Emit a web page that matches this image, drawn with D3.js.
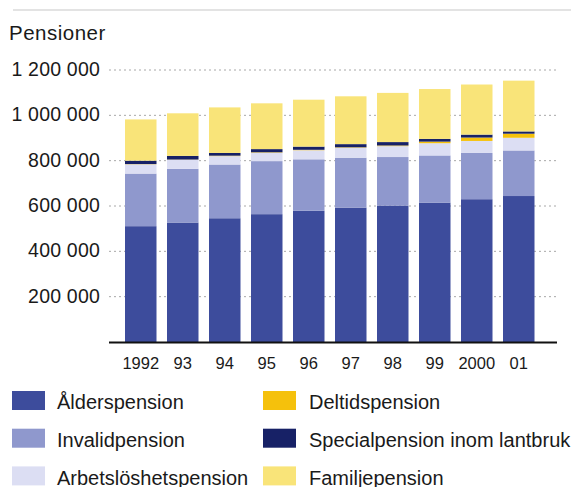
<!DOCTYPE html>
<html>
<head>
<meta charset="utf-8">
<script src="https://cdnjs.cloudflare.com/ajax/libs/d3/7.8.5/d3.min.js"></script>
<style>
	body { margin: 0; background: #fff; }
	text { font-family: "Liberation Sans", Arial, sans-serif; fill: #1a1a1a; }
	.gridLine { stroke: #a8a8a8; stroke-width: 1; stroke-dasharray: 2,3; }
	.axisLine { stroke: #111; stroke-width: 2.2; }
	.topLine { stroke: #c8c8c8; stroke-width: 1.2; }
</style>
</head>
<body>
<div id="chart"></div>
<script>
//--------------------------------- Data ---------------------------------------

var years = ["1992", "93", "94", "95", "96", "97", "98", "99", "2000", "01"];

var alderspension = [511000, 527000, 546000, 564000, 579000, 593000, 602000, 615000, 630000, 644000];
var invalidpension = [232000, 237000, 237000, 234000, 227000, 220000, 214000, 208000, 204000, 201000];
var arbetsloshetspension = [41000, 40000, 37000, 37000, 40000, 44000, 48000, 54000, 53000, 56000];
var deltidspension = [1000, 1000, 2000, 2000, 2000, 2000, 3000, 7000, 15000, 18000];
var specialpension = [15000, 16000, 12000, 14000, 14000, 14000, 15000, 12000, 13000, 10000];
var familjepension = [182000, 188000, 201000, 202000, 207000, 211000, 217000, 220000, 221000, 224000];

var seriesNames = ["Ålderspension", "Invalidpension", "Arbetslöshetspension", "Deltidspension", "Specialpension inom lantbruk", "Familjepension"];
var seriesColors = ["#3d4c9c", "#8f98cd", "#dcdef3", "#f5c10c", "#172166", "#f9e479"];

var yTicks = [200000, 400000, 600000, 800000, 1000000, 1200000];

//--------------------------------- Set up svg ---------------------------------------

var width = 571, height = 487;

var svg = d3.select("#chart")
	.append("svg")
	.attr("width", width)
	.attr("height", height);

//build rows for the stack
var keys = ["alder", "invalid", "arbets", "deltid", "special", "familj"];
var allSeries = [alderspension, invalidpension, arbetsloshetspension, deltidspension, specialpension, familjepension];
var rows = years.map(function(y, i) {
	var r = {year: y};
	keys.forEach(function(k, j) { r[k] = allSeries[j][i]; });
	return r;
});

var stacked = d3.stack().keys(keys)(rows);

//---------------------------------------- Scales ------------------------------------------------

var x = d3.scaleBand()
	.domain(years)
	.range([125, 534.5])
	.paddingInner(0.25)
	.paddingOuter(0);

var y = d3.scaleLinear()
	.domain([0, 1200000])
	.range([342, 70]);

var color = d3.scaleOrdinal().domain(keys).range(seriesColors);

var fmt = function(d) { return d3.format(",")(d).replace(/,/g, " "); };

//---------------------------------------- Top rule & title ----------------------------------------

svg.append("line")
	.attr("class", "topLine")
	.attr("x1", 13).attr("x2", width)
	.attr("y1", 10).attr("y2", 10);

svg.append("text")
	.attr("x", 9)
	.attr("y", 40)
	.style("font-size", "20.5px")
	.style("letter-spacing", "0.5px")
	.text("Pensioner");

//---------------------------------------- Gridlines + y labels ----------------------------------------

svg.selectAll(".gridLine")
	.data(yTicks)
	.enter().append("line")
	.attr("class", "gridLine")
	.attr("x1", 109).attr("x2", 557)
	.attr("y1", function(d) { return y(d); })
	.attr("y2", function(d) { return y(d); });

svg.selectAll(".yLabel")
	.data(yTicks)
	.enter().append("text")
	.attr("class", "yLabel")
	.attr("x", 100)
	.attr("y", function(d) { return y(d); })
	.attr("dy", "0.3em")
	.style("text-anchor", "end")
	.style("font-size", "19.5px")
	.style("letter-spacing", "0.2px")
	.text(fmt);

//---------------------------------------- Bars ----------------------------------------

svg.selectAll(".layer")
	.data(stacked)
	.enter().append("g")
	.attr("class", "layer")
	.style("fill", function(d) { return color(d.key); })
	.selectAll("rect")
	.data(function(d) { return d; })
	.enter().append("rect")
	.attr("x", function(d) { return x(d.data.year); })
	.attr("width", x.bandwidth())
	.attr("y", function(d) { return y(d[1]); })
	.attr("height", function(d) { return y(d[0]) - y(d[1]); });

//x axis line
svg.append("line")
	.attr("class", "axisLine")
	.attr("x1", 109).attr("x2", 557)
	.attr("y1", y(0) + 0.5).attr("y2", y(0) + 0.5);

svg.selectAll(".xLabel")
	.data(years)
	.enter().append("text")
	.attr("class", "xLabel")
	.attr("x", function(d) { return x(d) + x.bandwidth()/2; })
	.attr("y", 369)
	.style("text-anchor", "middle")
	.style("font-size", "16.5px")
	.text(function(d) { return d; });

//---------------------------------------- Legend ----------------------------------------

var legend = svg.selectAll(".legendItem")
	.data(seriesNames)
	.enter().append("g")
	.attr("class", "legendItem")
	.attr("transform", function(d, i) {
		var col = Math.floor(i / 3), row = i % 3;
		return "translate(" + (col === 0 ? 12 : 263) + "," + (391 + row * 37.7) + ")";
	});

legend.append("rect")
	.attr("width", 33)
	.attr("height", 19)
	.style("fill", function(d, i) { return seriesColors[i]; });

legend.append("text")
	.attr("x", function(d, i) { return i < 3 ? 45 : 46; })
	.attr("y", 18.3)
	.style("font-size", "20px")
	.text(function(d) { return d; });
</script>
</body>
</html>
